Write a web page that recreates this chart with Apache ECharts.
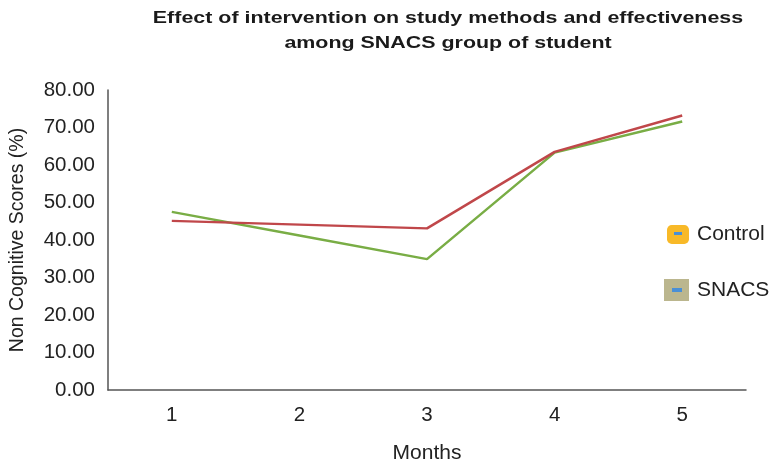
<!DOCTYPE html>
<html>
<head>
<meta charset="utf-8">
<script src="https://cdn.jsdelivr.net/npm/echarts@6/dist/echarts.min.js"></script>
<style>
  html, body { margin: 0; padding: 0; background: #fff; }
  #chart { width: 774px; height: 468px; }
</style>
</head>
<body>
<div id="chart"></div>
<script>
// Months of the intervention
const months = ['1', '2', '3', '4', '5'];
// Non cognitive scores (%) per month
const controlScores = [45.1, 44.1, 43.1, 63.5, 73.2];
const snacsScores = [47.5, 41.2, 34.9, 63.3, 71.6];
// Y axis range
const yMin = 0, yMax = 80, yStep = 10;

const titleLines = [
  'Effect of intervention on study methods and effectiveness',
  'among SNACS group of student'
];

const FONT = 'Liberation Sans, Arial, Helvetica, sans-serif';
const chart = echarts.init(document.getElementById('chart'));

// Wide bold heading, drawn as two centred text lines
const titleStyle = { fontFamily: FONT, fontWeight: 'bold', fontSize: 17, fill: '#1a1a1a', align: 'center', verticalAlign: 'middle' };
const titleGraphics = titleLines.map((line, i) => ({
  type: 'text',
  x: 448, y: 18 + i * 25,
  scaleX: 1.26,
  style: Object.assign({ text: line }, titleStyle)
}));

const legendText = { fontFamily: FONT, fontSize: 21, color: '#222', padding: [2, 0, 0, 3] };

chart.setOption({
  animation: false,
  backgroundColor: '#fff',
  grid: { left: 108, right: 28, top: 90, bottom: 78, containLabel: false, outerBoundsMode: 'none' },
  legend: [
    {
      orient: 'vertical', left: 667, top: 224, padding: 0,
      itemWidth: 22, itemHeight: 19, itemGap: 8,
      textStyle: legendText,
      data: [{ name: 'Control', icon: 'roundRect', itemStyle: { color: '#f8b928' } }]
    },
    {
      orient: 'vertical', left: 664, top: 279, padding: 0,
      itemWidth: 25, itemHeight: 22, itemGap: 8,
      textStyle: legendText,
      data: [{ name: 'SNACS', icon: 'rect', itemStyle: { color: '#bbb68e' } }]
    }
  ],
  graphic: titleGraphics.concat([
    { type: 'rect', shape: { x: 674, y: 232, width: 8, height: 3 }, style: { fill: '#4a8fd6' }, z: 100 },
    { type: 'rect', shape: { x: 672, y: 288, width: 10, height: 4 }, style: { fill: '#4a8fd6' }, z: 100 }
  ]),
  xAxis: {
    type: 'category',
    data: months,
    boundaryGap: true,
    name: 'Months',
    nameLocation: 'middle',
    nameGap: 53,
    nameTextStyle: { fontFamily: FONT, fontSize: 21, color: '#222' },
    axisLine: { lineStyle: { color: '#555', width: 1.5 } },
    axisTick: { show: false },
    axisLabel: { fontFamily: FONT, fontSize: 20.5, color: '#222', margin: 15 }
  },
  yAxis: {
    type: 'value',
    min: yMin, max: yMax, interval: yStep,
    name: 'Non Cognitive Scores (%)',
    nameLocation: 'middle',
    nameGap: 80,
    nameTextStyle: { fontFamily: FONT, fontSize: 19.5, color: '#222' },
    axisLine: { show: true, lineStyle: { color: '#555', width: 1.5 } },
    axisTick: { show: false },
    splitLine: { show: false },
    axisLabel: {
      fontFamily: FONT, fontSize: 20.5, color: '#222', margin: 13,
      formatter: v => v.toFixed(2)
    }
  },
  series: [
    {
      name: 'Control', type: 'line', data: controlScores,
      symbol: 'none',
      lineStyle: { color: '#c0474a', width: 2.5 },
      itemStyle: { color: '#c0474a' }
    },
    {
      name: 'SNACS', type: 'line', data: snacsScores,
      symbol: 'none',
      lineStyle: { color: '#79ad45', width: 2.5 },
      itemStyle: { color: '#79ad45' },
      z: 1
    }
  ]
});
</script>
</body>
</html>
